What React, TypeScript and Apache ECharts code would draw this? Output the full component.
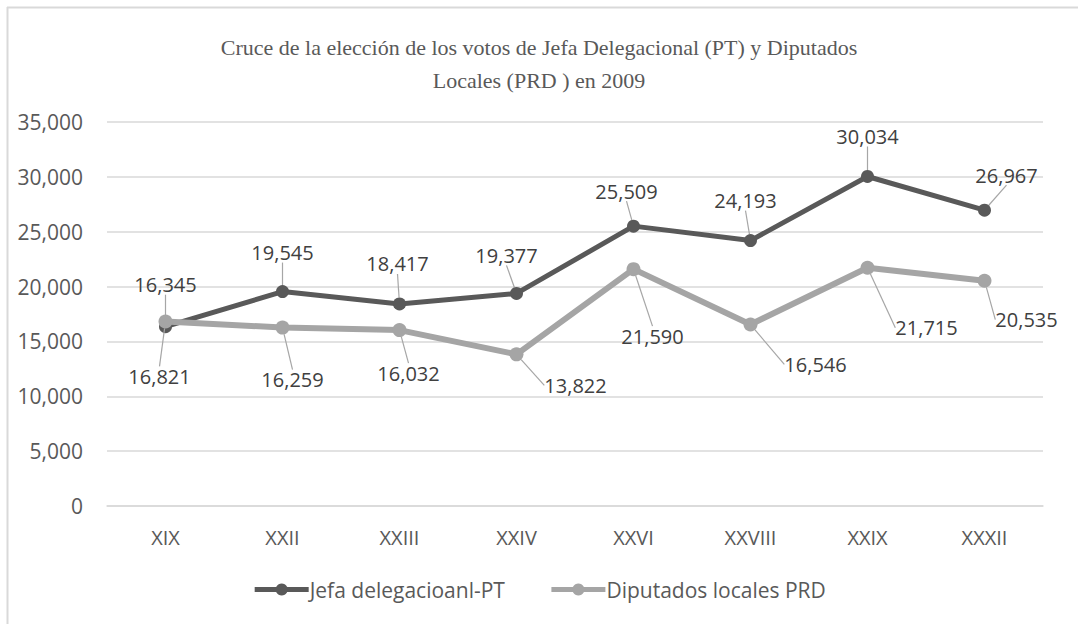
import React, { useEffect, useRef } from "react";
import * as echarts from "echarts";

const categories = ["XIX", "XXII", "XXIII", "XXIV", "XXVI", "XXVIII", "XXIX", "XXXII"];
const jefaPT = [16345, 19545, 18417, 19377, 25509, 24193, 30034, 26967];
const diputadosPRD = [16821, 16259, 16032, 13822, 21590, 16546, 21715, 20535];
const seriesNames = ["Jefa delegacioanl-PT", "Diputados locales PRD"];
const titleText = "Cruce de la elección de los votos de Jefa Delegacional (PT) y Diputados\nLocales (PRD ) en 2009";

// label offsets (px) relative to each point, as placed in the reference
const jefaLabelOffsets = [[0, -42], [0, -39], [-2, -40], [-10, -38], [-7, -35], [-5, -40], [0, -40], [22, -35]];
const dipLabelOffsets = [[-6, 55], [10, 52], [9, 43], [59, 31], [19, 67], [65, 40], [59, 60], [42, 39]];

const FONT = "'Open Sans', 'Noto Sans', sans-serif";

export default function App() {
  const ref = useRef<HTMLDivElement>(null);
  useEffect(() => {
    if (!ref.current) return;
    const chart = echarts.init(ref.current, undefined, { renderer: "svg" });
    const fmt = (v: number) => v.toLocaleString("en-US");
    chart.setOption({
      animation: false,
      backgroundColor: "#ffffff",
      textStyle: { fontFamily: FONT },
      title: {
        text: titleText,
        left: "center",
        top: 26,
        textStyle: {
          fontFamily: "'Liberation Serif', 'Times New Roman', serif",
          fontWeight: "normal",
          fontSize: 22,
          lineHeight: 33,
          color: "#595959",
        },
      },
      graphic: [
        { type: "line", shape: { x1: 7, y1: 7.5, x2: 1078, y2: 7.5 }, style: { stroke: "#d9d9d9", lineWidth: 2 } },
        { type: "line", shape: { x1: 7.5, y1: 7, x2: 7.5, y2: 624 }, style: { stroke: "#d9d9d9", lineWidth: 2 } },
      ],
      legend: {
        bottom: 19,
        left: "center",
        itemWidth: 54,
        itemHeight: 15,
        itemGap: 44,
        lineStyle: { width: 5 },
        textStyle: { fontFamily: FONT, fontSize: 21, color: "#595959", padding: [0, 0, 0, -4] },
        data: seriesNames,
      },
      grid: { left: 107, right: 35, top: 122, bottom: 118, containLabel: false },
      xAxis: {
        type: "category",
        data: categories,
        boundaryGap: true,
        axisLine: { show: true, lineStyle: { color: "#d9d9d9", width: 1.5 } },
        axisTick: { show: false },
        axisLabel: { color: "#595959", fontSize: 20, fontFamily: FONT, margin: 21 },
      },
      yAxis: {
        type: "value",
        min: 0,
        max: 35000,
        interval: 5000,
        axisLine: { show: false },
        axisTick: { show: false },
        axisLabel: { color: "#595959", fontSize: 21, fontFamily: FONT, margin: 24, formatter: (v: number) => fmt(v) },
        splitLine: { lineStyle: { color: "#d9d9d9", width: 1.5 } },
      },
      series: [
        {
          name: seriesNames[0],
          type: "line",
          data: jefaPT,
          z: 3,
          symbol: "circle",
          symbolSize: 13,
          lineStyle: { color: "#595959", width: 5 },
          itemStyle: { color: "#595959" },
          label: {
            show: true,
            position: "inside",
            formatter: (p: any) => fmt(p.value),
            color: "#404040",
            fontSize: 20,
            fontFamily: FONT,
          },
          labelLine: { show: true, lineStyle: { color: "#a6a6a6", width: 1.2 }, length2: 0 },
          labelLayout: (p: any) => ({ dx: jefaLabelOffsets[p.dataIndex][0], dy: jefaLabelOffsets[p.dataIndex][1] }),
        },
        {
          name: seriesNames[1],
          type: "line",
          data: diputadosPRD,
          z: 4,
          symbol: "circle",
          symbolSize: 14,
          lineStyle: { color: "#a5a5a5", width: 6 },
          itemStyle: { color: "#a5a5a5" },
          label: {
            show: true,
            position: "inside",
            formatter: (p: any) => fmt(p.value),
            color: "#404040",
            fontSize: 20,
            fontFamily: FONT,
          },
          labelLine: { show: true, lineStyle: { color: "#a6a6a6", width: 1.2 }, length2: 0 },
          labelLayout: (p: any) => ({ dx: dipLabelOffsets[p.dataIndex][0], dy: dipLabelOffsets[p.dataIndex][1] }),
        },
      ],
    });
    return () => chart.dispose();
  }, []);
  return (
    <div
      ref={ref}
      style={{ position: "absolute", left: 0, top: 0, width: 1078, height: 624, background: "#fff" }}
    />
  );
}
